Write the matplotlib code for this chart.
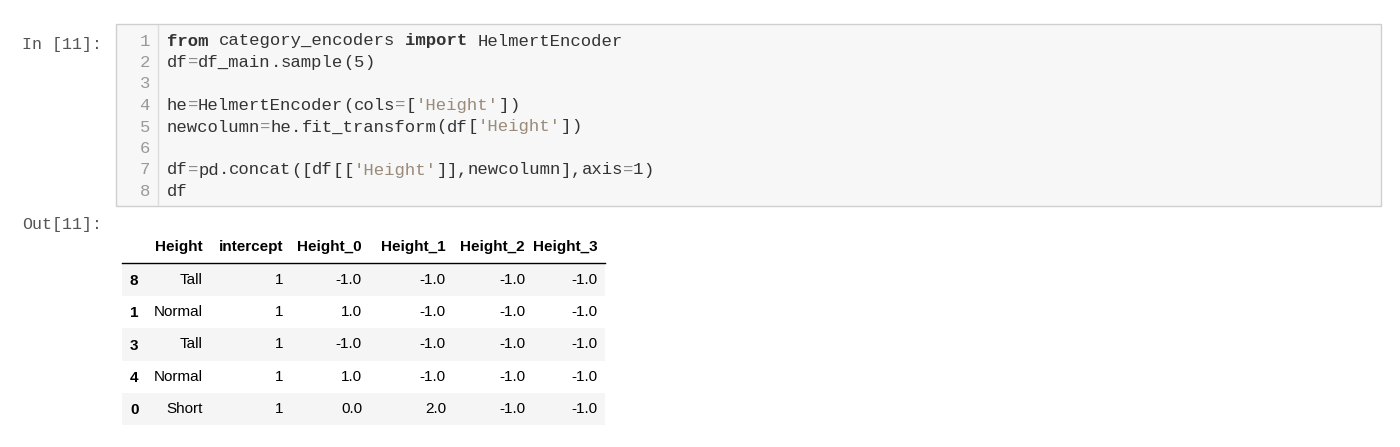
import re
import matplotlib.pyplot as plt
from matplotlib.patches import Rectangle

code_lines = [
    "from category_encoders import HelmertEncoder",
    "df=df_main.sample(5)",
    "",
    "he=HelmertEncoder(cols=['Height'])",
    "newcolumn=he.fit_transform(df['Height'])",
    "",
    "df=pd.concat([df[['Height']],newcolumn],axis=1)",
    "df",
]
columns = ["Height", "intercept", "Height_0", "Height_1", "Height_2", "Height_3"]
index = ["8", "1", "3", "4", "0"]
height = ["Tall", "Normal", "Tall", "Normal", "Short"]
intercept = [1, 1, 1, 1, 1]
height_0 = [-1.0, 1.0, -1.0, 1.0, 0.0]
height_1 = [-1.0, -1.0, -1.0, -1.0, 2.0]
height_2 = [-1.0, -1.0, -1.0, -1.0, -1.0]
height_3 = [-1.0, -1.0, -1.0, -1.0, -1.0]

fig = plt.figure(figsize=(14, 4.47), dpi=100)
ax = fig.add_axes([0, 0, 1, 1])
ax.set_xlim(0, 1400)
ax.set_ylim(447, 0)
ax.axis("off")

mono = "Liberation Mono"
sans = "Liberation Sans"

# prompts
ax.text(22, 44, "In [11]:", family=mono, fontsize=12, color="#555555", va="center")
ax.text(22, 225, "Out[11]:", family=mono, fontsize=12, color="#555555", va="center")

# code cell box
ax.add_patch(Rectangle((116, 24), 1265, 182, facecolor="#f7f7f7", edgecolor="#cfcfcf", lw=1))
ax.plot([158, 158], [25, 205], color="#dddddd", lw=1)

cw = 10.36
x0, y0, dy = 167, 41, 21.5
tok = re.compile(r"'[^']*'|\b(?:from|import)\b|\d+|=|\w+|.")
for i, line in enumerate(code_lines):
    y = y0 + i * dy
    ax.text(150, y, str(i + 1), family=mono, fontsize=12.4, color="#999999", ha="right", va="center")
    for m in tok.finditer(line):
        t = m.group()
        color, weight = "#333333", "normal"
        if t in ("from", "import"):
            color, weight = "#333333", "bold"
        elif t.startswith("'"):
            color = "#9a8a7a"
        elif t == "=":
            color = "#888888"
        ax.text(x0 + m.start() * cw, y, t, family=mono, fontsize=12.4, color=color,
                weight=weight, va="center")

# table
col_right = [203, 283, 362, 446, 525, 598]
ax.text(130, 247, "", va="center")
for c, xr in zip(columns, col_right):
    ax.text(xr, 247, c, family=sans, fontsize=11, weight="bold", color="#000000", ha="right", va="center")
ax.plot([122, 605], [263, 263], color="#000000", lw=1)

row_h = 32.2
values = [height, intercept, height_0, height_1, height_2, height_3]
for r in range(len(index)):
    top = 264 + r * row_h
    if r % 2 == 0:
        ax.add_patch(Rectangle((122, top), 483, row_h, facecolor="#f5f5f5", edgecolor="none"))
    yc = top + row_h / 2
    ax.text(130, yc + 1, index[r], family=sans, fontsize=11, weight="bold", ha="left", va="center")
    for j, (vals, xr) in enumerate(zip(values, col_right)):
        v = vals[r]
        s = v if isinstance(v, str) else (str(v) if isinstance(v, int) else f"{v:.1f}")
        ax.text(xr, yc, s, family=sans, fontsize=11, color="#000000", ha="right", va="center")

fig.savefig("out.png", dpi=100, facecolor="white")
